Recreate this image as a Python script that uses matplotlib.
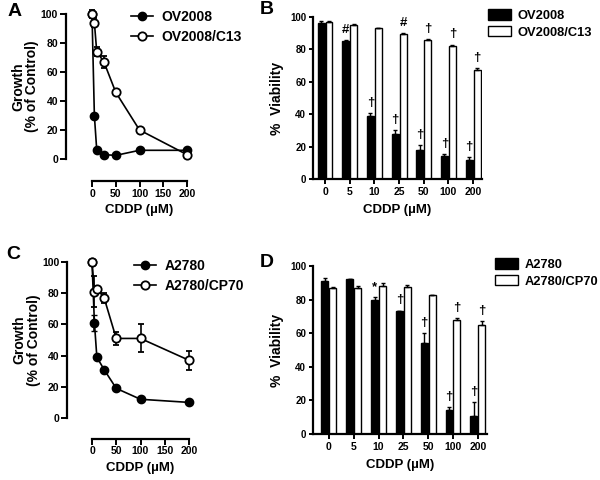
import matplotlib
matplotlib.use("Agg")
import matplotlib.pyplot as plt
from matplotlib.lines import Line2D
import numpy as np

plt.rcParams.update({'font.family': ['Liberation Sans', 'DejaVu Sans'],
                     'font.weight': 'bold',
                     'axes.linewidth': 1.6})

# growth curves (panels A, C)
dose = [0, 5, 10, 25, 50, 100, 200]
ov2008_growth = [100, 30, 6, 3, 2.5, 6, 6]
ov2008_growth_err = [0, 0, 0, 0, 0, 0, 0]
c13_growth = [100, 94, 74, 67, 46, 20, 3]
c13_growth_err = [3, 3, 3, 4, 0, 0, 0]
a2780_growth = [100, 61, 39, 31, 19, 12, 10]
a2780_growth_err = [0, 5, 0, 0, 0, 0, 0]
cp70_growth = [100, 81, 83, 77, 51, 51, 37]
cp70_growth_err = [0, 10, 0, 3, 4, 9, 6]

# viability bars (panels B, D)
dose_labels = ['0', '5', '10', '25', '50', '100', '200']
ov2008_viab = [96, 85, 39, 28, 18, 14, 12]
ov2008_viab_err = [1.5, 1, 2, 2, 3, 1.5, 1.5]
c13_viab = [97, 95, 93, 89.5, 86, 82, 67]
c13_viab_err = [0.5, 0.5, 0.5, 0.5, 0.5, 1, 1.5]
ov2008_marks = ['', '#', '†', '†', '†', '†', '†']
c13_marks = ['', '', '', '#', '†', '†', '†']

a2780_viab = [91, 92, 80, 73, 54, 14, 11]
a2780_viab_err = [2, 0.5, 1.5, 0.5, 6, 2, 8]
cp70_viab = [87, 87, 88, 87.5, 82.5, 68, 65]
cp70_viab_err = [0.3, 1, 2, 1, 0.3, 1, 2]
a2780_marks = ['', '', '*', '†', '†', '†', '†']
cp70_marks = ['', '', '', '', '', '†', '†']

fig = plt.figure(figsize=(6, 4.8), dpi=100)
W, H = 600.0, 480.0


def px_axes(x0, y_top, x1, y_bot):
    return fig.add_axes([x0 / W, 1 - y_bot / H, (x1 - x0) / W, (y_bot - y_top) / H])


def growth_panel(ax, a, aerr, b, berr, names, leg_xy, left_off, bot_off):
    ax.errorbar(dose, a, yerr=aerr, color='black', marker='o', ms=6, mfc='black',
                mec='black', lw=1.2, capsize=2.5, elinewidth=1.2,
                clip_on=False, zorder=3)
    ax.errorbar(dose, b, yerr=berr, color='black', marker='o', ms=6, mfc='white',
                mec='black', mew=1.3, lw=1.2, capsize=2.5, elinewidth=1.2,
                clip_on=False, zorder=4)
    ax.set_xlim(0, 200)
    ax.set_ylim(0, 100)
    ax.set_xticks([0, 50, 100, 150, 200])
    ax.set_yticks([0, 20, 40, 60, 80, 100])
    ax.spines['top'].set_visible(False)
    ax.spines['right'].set_visible(False)
    ax.spines['bottom'].set_position(('outward', bot_off))
    ax.spines['left'].set_position(('outward', left_off))
    ax.tick_params(labelsize=7.5, width=1.4, length=4, pad=1.5)
    ax.set_xlabel('CDDP (µM)', fontsize=9.5, fontweight='bold', labelpad=4)
    ax.set_ylabel('Growth\n(% of Control)', fontsize=10, fontweight='bold',
                  labelpad=1, linespacing=1.0)
    handles = [Line2D([], [], color='black', marker='o', ms=6, mfc='black', lw=1.2),
               Line2D([], [], color='black', marker='o', ms=6, mfc='white',
                      mew=1.3, lw=1.2)]
    ax.legend(handles, names, loc='upper left', bbox_to_anchor=leg_xy,
              bbox_transform=fig.transFigure, frameon=False, fontsize=10,
              handlelength=1.6, handletextpad=0.6, labelspacing=0.45,
              borderpad=0, borderaxespad=0)


def bar_panel(ax, a, aerr, b, berr, amarks, bmarks, names, xlim, leg_xy):
    x = np.arange(len(dose_labels))
    w = 0.28
    ax.bar(x - 0.16, a, w, color='black', edgecolor='black', lw=1,
           yerr=[np.zeros(len(a)), aerr], capsize=1.5,
           error_kw=dict(elinewidth=1, ecolor='black'), label=names[0])
    ax.bar(x + 0.16, b, w, color='white', edgecolor='black', lw=1,
           yerr=[np.zeros(len(b)), berr], capsize=1.5,
           error_kw=dict(elinewidth=1, ecolor='black'), label=names[1])
    for i in range(len(x)):
        if amarks[i]:
            ax.text(x[i] - 0.16, a[i] + aerr[i] + 2.5, amarks[i], ha='center',
                    va='bottom', fontsize=9.5, fontweight='bold')
        if bmarks[i]:
            ax.text(x[i] + 0.16, b[i] + berr[i] + 2.5, bmarks[i], ha='center',
                    va='bottom', fontsize=9.5, fontweight='bold')
    ax.set_xlim(*xlim)
    ax.set_ylim(0, 100)
    ax.set_xticks(x)
    ax.set_xticklabels(dose_labels)
    ax.set_yticks([0, 20, 40, 60, 80, 100])
    ax.spines['top'].set_visible(False)
    ax.spines['right'].set_visible(False)
    ax.tick_params(axis='y', labelsize=7, width=1.4, length=3, pad=2)
    ax.tick_params(axis='x', labelsize=7.5, width=1.4, length=3.5, pad=2)
    ax.set_xlabel('CDDP (µM)', fontsize=9.5, fontweight='bold', labelpad=5)
    ax.set_ylabel('%  Viability', fontsize=10, fontweight='bold', labelpad=4)
    ax.legend(loc='upper left', bbox_to_anchor=leg_xy,
              bbox_transform=fig.transFigure, frameon=False, fontsize=9.3,
              handlelength=1.8, handleheight=0.9, handletextpad=0.5,
              labelspacing=0.3, borderpad=0, borderaxespad=0)


axA = px_axes(92, 14, 187, 159)
growth_panel(axA, ov2008_growth, ov2008_growth_err, c13_growth, c13_growth_err,
             ['OV2008', 'OV2008/C13'], (131 / W, 1 - 10 / H), 19, 16)

axC = px_axes(92, 262, 189, 418)
growth_panel(axC, a2780_growth, a2780_growth_err, cp70_growth, cp70_growth_err,
             ['A2780', 'A2780/CP70'], (134 / W, 1 - 259 / H), 18, 15)

axB = px_axes(313, 17, 482, 179)
bar_panel(axB, ov2008_viab, ov2008_viab_err, c13_viab, c13_viab_err,
          ov2008_marks, c13_marks, ['OV2008', 'OV2008/C13'], (-0.49, 6.36),
          (488 / W, 1 - 9 / H))

axD = px_axes(313, 266, 487, 434)
bar_panel(axD, a2780_viab, a2780_viab_err, cp70_viab, cp70_viab_err,
          a2780_marks, cp70_marks, ['A2780', 'A2780/CP70'], (-0.64, 6.37),
          (495 / W, 1 - 258 / H))

for lab, (px, py) in zip('ABCD', [(8, 3), (260, 1), (6, 246), (260, 254)]):
    fig.text(px / W, 1 - py / H, lab, fontsize=14, fontweight='bold',
             ha='left', va='top')

fig.savefig('out.png', dpi=100)
